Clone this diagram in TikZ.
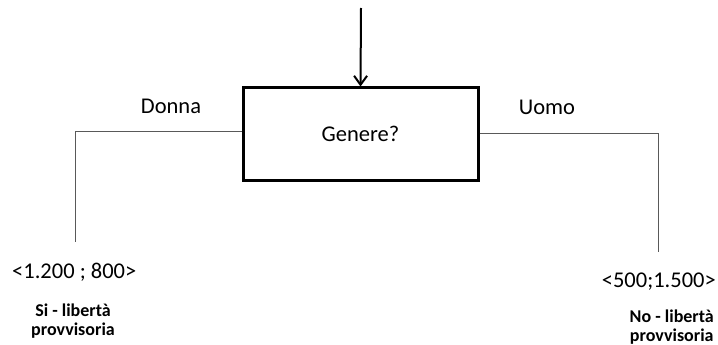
\documentclass[tikz,border=0pt]{standalone}
\usepackage{fontspec}
\setmainfont{Carlito}
\usetikzlibrary{arrows.meta}
\begin{document}
\begin{tikzpicture}[x=1pt,y=-1pt,
  lbl/.style={font=\fontsize{22.5}{26}\selectfont, inner sep=0pt},
  outcome/.style={font=\fontsize{18}{19}\selectfont\bfseries, align=center, inner sep=0pt},
  box/.style={draw, line width=3pt, minimum width=235pt, minimum height=92pt, inner sep=0pt},
  branch/.style={draw=black!65, line width=1pt},
  feed/.style={draw, line width=2pt, -{Straight Barb[length=9pt,width=13pt,line width=2pt]}}]
\useasboundingbox (0,0) rectangle (718,345);
\node[box, lbl] (q) at (360.5,134) {Genere?};
\coordinate (top) at (361,8);
\draw[feed] (top) -- (q.north);
% left branch
\coordinate (lc) at (75,131);
\coordinate (lend) at (75,242);
\draw[branch] (q.west |- lc) -- (lc) -- (lend);
% right branch
\coordinate (rc) at (658,133);
\coordinate (rend) at (658,252);
\draw[branch] (q.east |- rc) -- (rc) -- (rend);
% labels
\node[lbl] (donna) at (171,106) {Donna};
\node[lbl] (uomo) at (547,107) {Uomo};
\node[lbl, anchor=west] (lv) at (12,272) {<1.200 ; 800>};
\node[lbl, anchor=east] (rv) at (716,282) {<500;1.500>};
\node[outcome] (lo) at (73,321) {Si - libertà\\provvisoria};
\node[outcome, anchor=east] (ro) at (714,327.5) {No - libertà\\provvisoria};
\end{tikzpicture}
\end{document}
